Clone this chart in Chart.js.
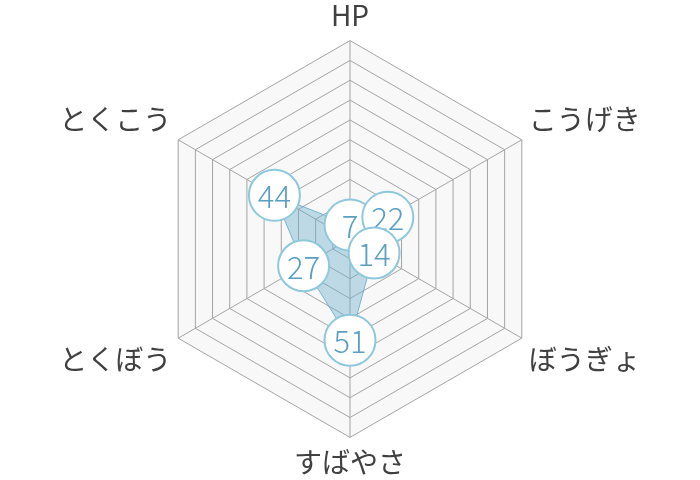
<!DOCTYPE html>
<html>
<head>
<meta charset="utf-8">
<script src="https://cdn.jsdelivr.net/npm/chart.js@4/dist/chart.umd.min.js"></script>
<style>
  html, body { margin: 0; padding: 0; background: #fff; }
  #wrap { width: 700px; height: 480px; }
</style>
</head>
<body>
<div id="wrap"><canvas id="myChart" width="700" height="480"></canvas></div>
<script>
// stat names and values
const statNames = ["HP", "こうげき", "ぼうぎょ", "すばやさ", "とくぼう", "とくこう"];
const statValues = [7, 22, 14, 51, 27, 44];
const scaleMax = 100;
const scaleStep = 10;

// white bubble with the value, drawn on each point in data order
const bubbleLabels = {
  id: "bubbleLabels",
  afterDatasetsDraw(chart) {
    const ctx = chart.ctx;
    const meta = chart.getDatasetMeta(0);
    ctx.save();
    meta.data.forEach((pt, i) => {
      ctx.beginPath();
      ctx.arc(pt.x, pt.y, 25.5, 0, Math.PI * 2);
      ctx.fillStyle = "#fff";
      ctx.fill();
      ctx.lineWidth = 2;
      ctx.strokeStyle = "#8ec8dc";
      ctx.stroke();
      ctx.fillStyle = "#5a9fc2";
      ctx.font = "300 31px 'Noto Sans CJK JP', 'Noto Sans', sans-serif";
      ctx.textAlign = "center";
      ctx.textBaseline = "middle";
      ctx.fillText(String(statValues[i]), pt.x, pt.y + 1);
    });
    ctx.restore();
  }
};

const data = {
  labels: statNames,
  datasets: [
    {
      data: statValues,
      backgroundColor: "rgba(110,175,205,0.42)",
      borderColor: "rgba(110,175,205,0.9)",
      borderWidth: 1,
      pointRadius: 0,
      pointHitRadius: 25,
    },
  ],
};

const config = {
  type: "radar",
  data,
  options: {
    responsive: false,
    animation: false,
    layout: { padding: 0 },
    plugins: { legend: { display: false }, tooltip: { enabled: false } },
    scales: {
      r: {
        min: 0,
        max: scaleMax,
        backgroundColor: "#f8f8f8",
        ticks: { display: false, stepSize: scaleStep },
        grid: { color: "#a4a4a4", lineWidth: 1 },
        angleLines: { color: "#a4a4a4", lineWidth: 1 },
        pointLabels: {
          color: "#404040",
          padding: 8,
          font: { family: "'Noto Sans CJK JP', 'Noto Sans', sans-serif", size: 28, weight: "400" },
        },
      },
    },
  },
  plugins: [bubbleLabels],
};

const myChart = new Chart(document.getElementById("myChart"), config);
</script>
</body>
</html>
